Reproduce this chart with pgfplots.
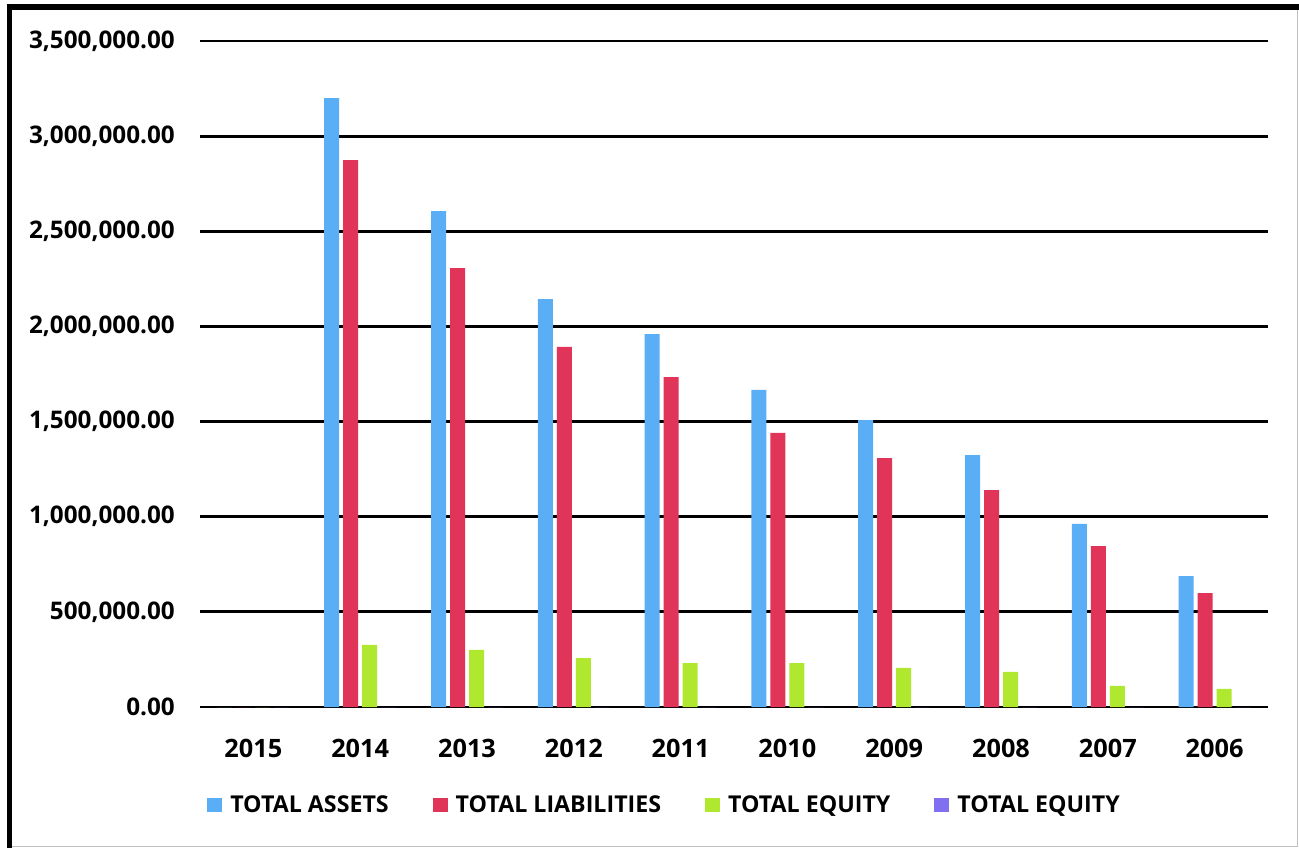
\documentclass[border=0pt]{standalone}
\usepackage{fontspec}
\setmainfont{Open Sans}
\usepackage{pgfplots}
\pgfplotsset{compat=1.18}
\definecolor{cAss}{RGB}{90,174,245}
\definecolor{cLia}{RGB}{224,52,88}
\definecolor{cEqu}{RGB}{176,232,48}
\definecolor{cEq2}{RGB}{128,112,240}
\begin{document}
\begin{tikzpicture}
\useasboundingbox (0,0) rectangle (974.25pt,-636pt);
\fill[white] (0,0) rectangle (974.25pt,-636pt);
\begin{axis}[
  at={(150pt,-530.25pt)}, anchor=south west,
  scale only axis, width=801pt, height=499.5pt,
  ybar=3pt, bar width=11.25pt,
  xmin=-0.5, xmax=9.5, ymin=0, ymax=3500000,
  xtick=data,
  xticklabels={2015,2014,2013,2012,2011,2010,2009,2008,2007,2006},
  ytick={0,500000,1000000,1500000,2000000,2500000,3000000,3500000},
  scaled y ticks=false,
  /pgf/number format/assume math mode=true,
  yticklabel={\pgfmathprintnumber[fixed,fixed zerofill,precision=2,1000 sep={,}]{\tick}},
  xticklabel style={font=\fontsize{19}{22}\selectfont\bfseries, anchor=north, inner sep=0pt, yshift=-19.5pt},
  yticklabel style={font=\fontsize{18.2}{22}\selectfont\bfseries, anchor=east, inner sep=0pt, xshift=-18.75pt},
  major tick style={draw=none},
  axis line style={draw=none},
  ymajorgrids, major grid style={black, line width=2.2pt},
  legend columns=4,
  legend style={at={(rel axis cs:0,0)}, anchor=west, xshift=5.25pt, yshift=-73.5pt,
    draw=none, fill=none, inner sep=0pt,
    font=\fontsize{17.4}{20}\selectfont\bfseries,
    nodes={inner sep=0pt},
    /tikz/every odd column/.append style={column sep=6pt},
    /tikz/every even column/.append style={column sep=33pt}},
  legend image code/.code={\fill[#1,draw=none] (0pt,-5.6pt) rectangle (11.25pt,5.6pt);},
]
\addplot[fill=cAss, draw=none] coordinates {(0,0) (1,3200000) (2,2606000) (3,2144000) (4,1960000) (5,1666000) (6,1508000) (7,1324000) (8,962000) (9,688000)};
\addplot[fill=cLia, draw=none] coordinates {(0,0) (1,2874000) (2,2307000) (3,1892000) (4,1734000) (5,1440000) (6,1308000) (7,1140000) (8,846000) (9,598000)};
\addplot[fill=cEqu, draw=none] coordinates {(0,0) (1,326000) (2,300000) (3,257000) (4,231000) (5,231000) (6,205000) (7,184000) (8,111000) (9,95000)};
\addplot[fill=cEq2, draw=none] coordinates {(0,0) (1,0) (2,0) (3,0) (4,0) (5,0) (6,0) (7,0) (8,0) (9,0)};
\legend{TOTAL ASSETS, TOTAL LIABILITIES, TOTAL EQUITY, TOTAL EQUITY}
\end{axis}
\draw[gray!50, line width=0.75pt] (7.1pt,-634.9pt) -- (973.1pt,-634.9pt) -- (973.1pt,-5.25pt);
\draw[black, line width=4pt] (7.1pt,-636pt) -- (7.1pt,-5.25pt);
\draw[black, line width=4.5pt] (5.1pt,-5.25pt) -- (974.25pt,-5.25pt);
\end{tikzpicture}
\end{document}
